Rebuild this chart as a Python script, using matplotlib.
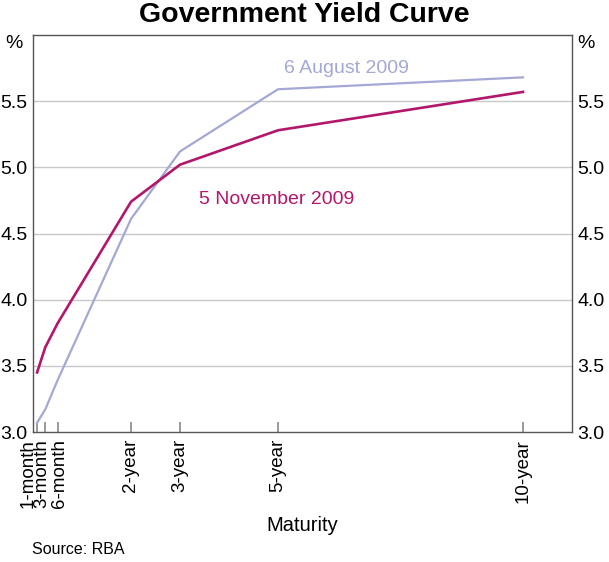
import matplotlib
matplotlib.use("Agg")
import matplotlib.pyplot as plt
from matplotlib.transforms import ScaledTranslation

plt.rcParams['font.family'] = ['Liberation Sans', 'DejaVu Sans']

maturity_years = [1/12, 3/12, 6/12, 2, 3, 5, 10]
tick_labels = ['1-month', '3-month', '6-month', '2-year', '3-year', '5-year', '10-year']
aug_2009 = [3.07, 3.17, 3.39, 4.61, 5.12, 5.59, 5.68]
nov_2009 = [3.45, 3.64, 3.82, 4.74, 5.02, 5.28, 5.57]
yticks = [3.0, 3.5, 4.0, 4.5, 5.0, 5.5]

aug_color = '#a4a8d5'
nov_color = '#b2176b'

fig = plt.figure(figsize=(6.09, 5.62), dpi=100)
ax = fig.add_axes([33/609, 1-432/562, (572-33)/609, (432-35)/562])

ax.set_xlim(0, 11)
ax.set_ylim(3.0, 6.0)
for y in yticks[1:]:
    ax.axhline(y, color='#c8c8c8', lw=1.0, zorder=1)

ax.plot(maturity_years, aug_2009, color=aug_color, lw=1.6, zorder=3)
ax.plot(maturity_years, nov_2009, color=nov_color, lw=1.9, zorder=4)

ax.text(6.4, 5.745, '6 August 2009', color=aug_color, fontsize=14, ha='center', va='center')
ax.text(4.97, 4.755, '5 November 2009', color=nov_color, fontsize=14, ha='center', va='center')

ax.set_xticks(maturity_years)
ax.set_xticklabels(tick_labels, rotation=90, fontsize=13.5)
ax.tick_params(axis='x', direction='in', length=7, width=1.2, color='#888888', pad=5)
# nudge the crowded short-maturity labels apart, as in the reference
shifts_px = [-9, -3, 2, 0, 0, 0, 0]
for lab, dx in zip(ax.get_xticklabels(), shifts_px):
    lab.set_transform(lab.get_transform() + ScaledTranslation(dx / 100, 0, fig.dpi_scale_trans))

ax.set_yticks(yticks)
ax.set_yticklabels([f'{v:.1f}' for v in yticks], fontsize=14)
ax.tick_params(axis='y', length=0, pad=4, labelleft=True, labelright=True)

for s in ax.spines.values():
    s.set_color('#555555')
    s.set_linewidth(1.0)

ax.text(-0.02, 0.978, '%', transform=ax.transAxes, ha='right', va='center', fontsize=14)
ax.text(1.01, 0.978, '%', transform=ax.transAxes, ha='left', va='center', fontsize=14)

ax.set_xlabel('Maturity', fontsize=14.5, labelpad=6)
fig.text(0.5, 1-15/562, 'Government Yield Curve', ha='center', va='center', fontsize=20.5, fontweight='bold')
fig.text(32/609, 1-549/562, 'Source: RBA', ha='left', va='center', fontsize=11.5)

fig.savefig('out.png', dpi=100)
